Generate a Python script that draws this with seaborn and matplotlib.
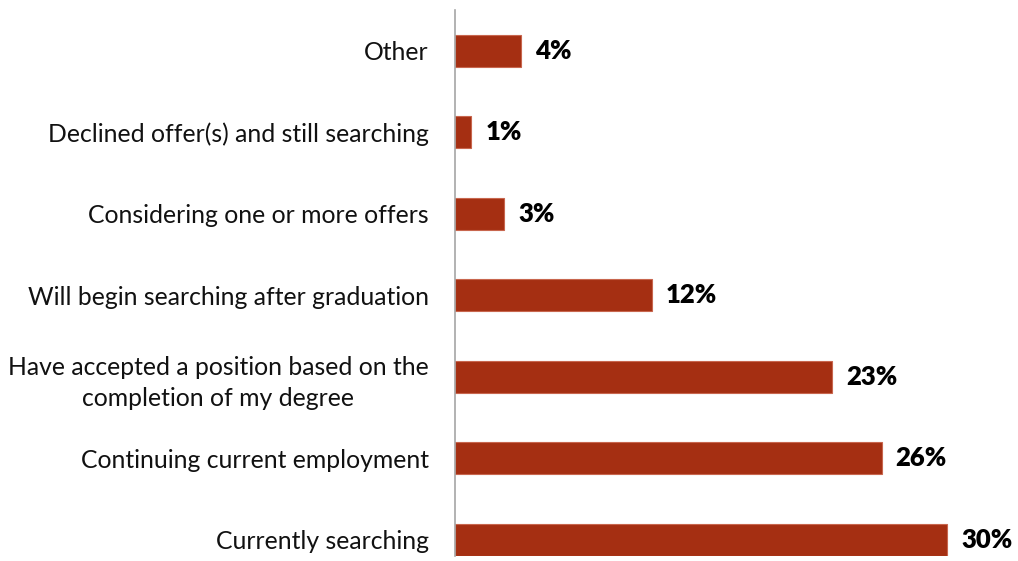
import matplotlib
matplotlib.use("Agg")
import matplotlib.pyplot as plt
import seaborn as sns
import pandas as pd

categories = [
    "Other",
    "Declined offer(s) and still searching",
    "Considering one or more offers",
    "Will begin searching after graduation",
    "Have accepted a position based on the\ncompletion of my degree",
    "Continuing current employment",
    "Currently searching",
]
percentages = [4, 1, 3, 12, 23, 26, 30]

df = pd.DataFrame({"status": categories, "pct": percentages})

sns.set_theme(style="white")
plt.rcParams["font.family"] = ["Lato", "DejaVu Sans"]

fig = plt.figure(figsize=(10.18, 5.61), dpi=100)
ax = fig.add_axes([0.447, 0.009, 0.548, 0.973])

bar_color = "#A52F12"
sns.barplot(data=df, x="pct", y="status", orient="h", color=bar_color,
            width=0.39, edgecolor="#C8664E", linewidth=0.8, ax=ax,
            saturation=1)

ax.set_xlim(0, 34)
ax.set_ylim(6.2, -0.5)
ax.set_xlabel("")
ax.set_ylabel("")
ax.set_xticks([])
ax.tick_params(axis="y", length=0, pad=19, labelsize=17.8, labelcolor="#111111")
for lbl in ax.get_yticklabels():
    lbl.set_horizontalalignment("right")
    lbl.set_multialignment("center")
    lbl.set_linespacing(1.45)

for side in ("top", "right", "bottom"):
    ax.spines[side].set_visible(False)
ax.spines["left"].set_color("#A6A6A6")
ax.spines["left"].set_linewidth(1.2)

for i, v in enumerate(percentages):
    ax.annotate(f"{v}%", xy=(v, i), xytext=(10, 0), textcoords="offset points",
                ha="left", va="center", fontsize=18.5, fontweight="heavy",
                color="#000000")

fig.savefig("out.png", dpi=100)
